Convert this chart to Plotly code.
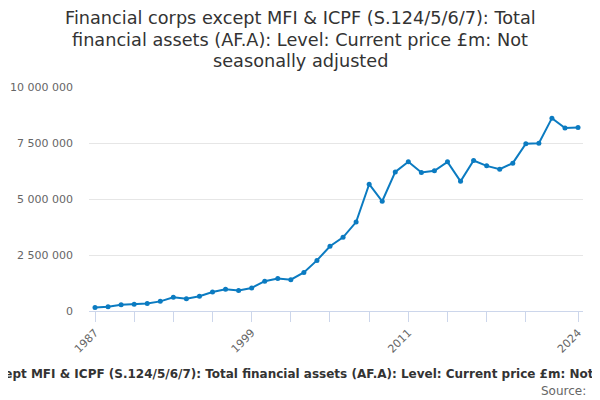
import plotly.graph_objects as go

years = list(range(1987, 2025))
values = [160000, 190000, 280000, 300000, 340000, 430000, 610000, 550000, 660000, 850000,
          970000, 920000, 1030000, 1330000, 1450000, 1400000, 1720000, 2260000, 2890000, 3290000,
          3970000, 5660000, 4900000, 6210000, 6660000, 6180000, 6260000, 6660000, 5790000, 6720000,
          6480000, 6330000, 6600000, 7470000, 7490000, 8610000, 8170000, 8190000]

x_tick_vals = [1987, 1990, 1993, 1996, 1999, 2002, 2005, 2008, 2011, 2014, 2017, 2020, 2024]
x_tick_text = ["1987", "", "", "", "1999", "", "", "", "2011", "", "", "", "2024"]
y_tick_vals = [0, 2500000, 5000000, 7500000, 10000000]
y_tick_text = ["0", "2 500 000", "5 000 000", "7 500 000", "10 000 000"]

title_lines = ["Financial corps except MFI & ICPF (S.124/5/6/7): Total",
               "financial assets (AF.A): Level: Current price £m: Not",
               "seasonally adjusted"]
axis_title = ("Financial corps except MFI & ICPF (S.124/5/6/7): Total financial assets (AF.A): "
              "Level: Current price £m: Not seasonally adjusted")
source_text = "Source:"

FONT = "DejaVu Sans"
LINE = "#0b7bc1"

# figure is placed 8px in from the page corner by the page margin
W, H = 592, 392
L, R, T, B = 81, 17, 79, 89
PW, PH = W - L - R, H - T - B


def px_x(x):
    return (x - L) / PW


def px_y(y):
    return (H - B - y) / PH


fig = go.Figure()
fig.add_trace(go.Scatter(
    x=years, y=values, mode="lines+markers",
    line=dict(color=LINE, width=2),
    marker=dict(color=LINE, size=5),
    hoverinfo="skip",
))

annotations = []
for i, line in enumerate(title_lines):
    annotations.append(dict(
        text=line, xref="paper", yref="paper", x=px_x(292), y=px_y(10 + 21.5 * i),
        xanchor="center", yanchor="middle", showarrow=False,
        font=dict(family=FONT, size=17.7, color="#333333")))
annotations.append(dict(
    text="<b>" + axis_title + "</b>", xref="paper", yref="paper",
    x=px_x(295), y=px_y(366), xanchor="center", yanchor="middle",
    showarrow=False, font=dict(family=FONT, size=12, color="#333333")))
annotations.append(dict(
    text=source_text, xref="paper", yref="paper",
    x=px_x(580), y=px_y(383), xanchor="right", yanchor="middle",
    showarrow=False, font=dict(family=FONT, size=12, color="#666666")))

fig.update_layout(
    width=W, height=H,
    margin=dict(l=L, r=R, t=T, b=B, autoexpand=False),
    paper_bgcolor="white", plot_bgcolor="white",
    showlegend=False,
    font=dict(family=FONT, color="#666666", size=11),
    xaxis=dict(
        range=[1986.54, 2024.38], tickvals=x_tick_vals, ticktext=x_tick_text,
        tickangle=-45, showgrid=False, zeroline=False,
        showline=True, linecolor="#ccd6eb", linewidth=1,
        ticks="outside", ticklen=10, tickcolor="#ccd6eb", tickwidth=1,
        tickfont=dict(family=FONT, size=11, color="#666666"),
    ),
    yaxis=dict(
        range=[0, 10000000], tickvals=y_tick_vals, ticktext=y_tick_text,
        showgrid=True, gridcolor="#e6e6e6", gridwidth=1, zeroline=False,
        showline=False, ticks="", ticklabelstandoff=15,
        tickfont=dict(family=FONT, size=11, color="#666666"),
    ),
    annotations=annotations,
)

fig.write_html("out.html")
